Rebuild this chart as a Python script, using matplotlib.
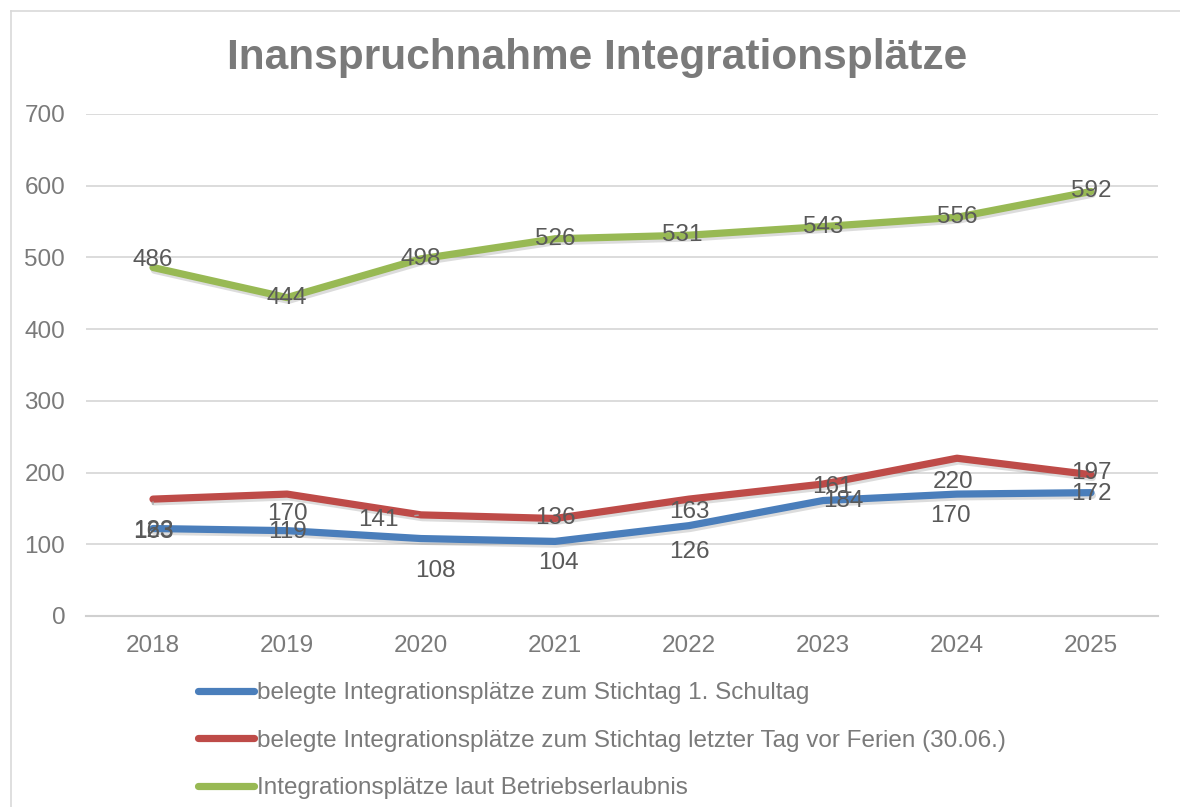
import matplotlib
matplotlib.use("Agg")
import matplotlib.pyplot as plt
import matplotlib.patheffects as pe
from matplotlib.lines import Line2D

plt.rcParams["font.family"] = ["Liberation Sans", "DejaVu Sans"]

years = ["2018", "2019", "2020", "2021", "2022", "2023", "2024", "2025"]
stichtag_schultag = [122, 119, 108, 104, 126, 161, 170, 172]
stichtag_ferien = [163, 170, 141, 136, 163, 184, 220, 197]
betriebserlaubnis = [486, 444, 498, 526, 531, 543, 556, 592]

# label texts as printed in the source chart (2023 labels are swapped there)
labels_schultag = ["123", "119", "108", "104", "126", "184", "170", "172"]
labels_ferien = ["163", "170", "141", "136", "163", "161", "220", "197"]
labels_betrieb = [str(v) for v in betriebserlaubnis]

legend_names = [
    "belegte Integrationsplätze zum Stichtag 1. Schultag",
    "belegte Integrationsplätze zum Stichtag letzter Tag vor Ferien (30.06.)",
    "Integrationsplätze laut Betriebserlaubnis",
]

BLUE, RED, GREEN = "#4a7ebb", "#be4b48", "#98b954"
TXT = "#595959"
TICK = "#7a7a7a"

fig = plt.figure(figsize=(11.8, 8.07), dpi=100)
ax = fig.add_axes([86 / 1180, 1 - 616 / 807, (1158 - 86) / 1180, (616 - 114) / 807])

# outer chart frame (left and top edge visible)
fig.add_artist(Line2D([11 / 1180, 11 / 1180], [0, 1 - 11 / 807], color="#d9d9d9", lw=1.2))
fig.add_artist(Line2D([11 / 1180, 1], [1 - 11 / 807, 1 - 11 / 807], color="#d9d9d9", lw=1.2))

x = list(range(len(years)))
shadow = [pe.SimpleLineShadow(offset=(1, -2), shadow_color="#404040", alpha=0.18), pe.Normal()]

series = [
    (stichtag_schultag, BLUE),
    (stichtag_ferien, RED),
    (betriebserlaubnis, GREEN),
]
for vals, col in series:
    ax.plot(x, vals, color=col, lw=5.2, solid_capstyle="round", solid_joinstyle="round",
            path_effects=shadow, zorder=3)

# label offsets in pixels (dx, dy)
off_schultag = [(0, -2), (0, -1), (14, -32), (3, -22), (0, -26), (20, 0), (-7, -22), (0, -1)]
off_ferien = [(0, -33), (0, -20), (-43, -5), (0, 0), (0, -13), (9, -3), (-4, -24), (0, 2)]
off_betrieb = [(0, 7), (0, 0), (0, 0), (0, 0), (-7, 0), (0, 0), (0, 0), (0, 0)]
leaders = {("f", 0), ("f", 2)}

for key, vals, labs, offs in [
    ("s", stichtag_schultag, labels_schultag, off_schultag),
    ("f", stichtag_ferien, labels_ferien, off_ferien),
    ("b", betriebserlaubnis, labels_betrieb, off_betrieb),
]:
    for i, (v, t, o) in enumerate(zip(vals, labs, offs)):
        arrow = None
        if (key, i) in leaders:
            arrow = dict(arrowstyle="-", color="#a6a6a6", lw=1, shrinkA=10, shrinkB=2)
        ax.annotate(t, (i, v), xytext=o, textcoords="offset pixels", ha="center", va="center",
                    fontsize=17.5, color=TXT, arrowprops=arrow, zorder=4)

ax.set_xlim(-0.5, len(years) - 0.5)
ax.set_ylim(0, 700)
ax.set_yticks(range(0, 701, 100))
ax.set_xticks(x)
ax.set_xticklabels(years)
ax.tick_params(axis="both", length=0, labelsize=17.5, labelcolor=TICK)
ax.tick_params(axis="x", pad=14)
ax.tick_params(axis="y", pad=15)
ax.grid(axis="y", color="#d9d9d9", lw=1.3)
ax.set_axisbelow(True)
for s in ["top", "right", "left"]:
    ax.spines[s].set_visible(False)
ax.spines["bottom"].set_color("#d0d0d0")
ax.spines["bottom"].set_linewidth(1.5)

fig.text(597 / 1180, 1 - 58 / 807, "Inanspruchnahme Integrationsplätze", ha="center", va="center",
         fontsize=30.5, fontweight="bold", color="#7a7a7a")

handles = [Line2D([], [], color=c, lw=5.2, solid_capstyle="round") for _, c in series]
fig.legend(handles, legend_names, loc="upper left", bbox_to_anchor=(198 / 1180, 1 - 682 / 807),
           frameon=False, fontsize=17.5, labelcolor=TICK, handlelength=2.3, handletextpad=0.12,
           labelspacing=1.05, borderpad=0, borderaxespad=0)

fig.savefig("out.png", dpi=100)
